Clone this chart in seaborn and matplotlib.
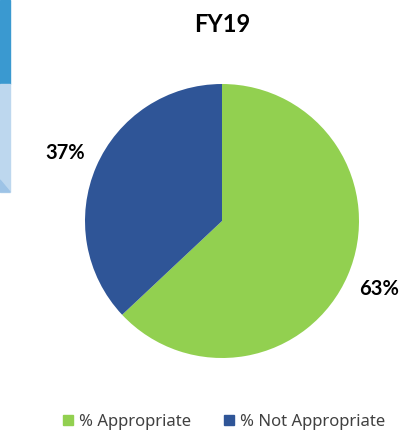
import matplotlib
matplotlib.use("Agg")
import matplotlib.pyplot as plt
import matplotlib.patches as mpatches
import seaborn as sns

# Share of cases for FY19
categories = ["% Appropriate", "% Not Appropriate"]
values = [63, 37]
title = "FY19"

sns.set_theme(style="white")
plt.rcParams["font.family"] = ["Noto Sans", "DejaVu Sans"]
bold_font = ["Lato", "DejaVu Sans"]

colors = ["#92D050", "#2F5597"]

fig = plt.figure(figsize=(4.13, 4.34), dpi=100)
fig.patch.set_facecolor("white")

# Edge of the neighbouring panel on the left
fig.patches.append(mpatches.Rectangle((0, 1 - 84 / 434), 10 / 413, 84 / 434,
                                      transform=fig.transFigure, color="#3A99D0", zorder=0))
fig.patches.append(mpatches.Rectangle((0, 1 - 192 / 434), 10 / 413, 108 / 434,
                                      transform=fig.transFigure, color="#BDD7EE", zorder=0))
fig.patches.append(mpatches.Polygon([(0, 1 - 192 / 434), (10 / 413, 1 - 192 / 434),
                                     (0, 1 - 180 / 434)],
                                    transform=fig.transFigure, color="#9DC3E6", zorder=0))

ax = fig.add_axes([85 / 413, 76 / 434, 274 / 413, 274 / 434])
wedges, texts, autotexts = ax.pie(
    values,
    colors=colors,
    startangle=90,
    counterclock=False,
    autopct=lambda p: f"{p:.0f}%",
    pctdistance=1.25,
    wedgeprops=dict(linewidth=0),
    textprops=dict(fontsize=14.5, fontweight="bold", color="black", family=bold_font),
)
ax.set_xlim(-1, 1)
ax.set_ylim(-1, 1)
ax.set_aspect("equal")
ax.axis("off")

fig.text(222 / 413, 1 - 24 / 434, title, ha="center", va="center",
         fontsize=17, fontweight="bold", color="black", family=bold_font)

handles = [mpatches.Patch(color=c, label=l) for c, l in zip(colors, categories)]
fig.legend(handles=handles, loc="center", bbox_to_anchor=(224 / 413, 1 - 422 / 434),
           ncol=2, frameon=False, fontsize=12, handlelength=0.6, handleheight=0.6,
           handletextpad=0.35, columnspacing=2.0, labelcolor="#404040")

fig.savefig("out.png", dpi=100, facecolor="white")
